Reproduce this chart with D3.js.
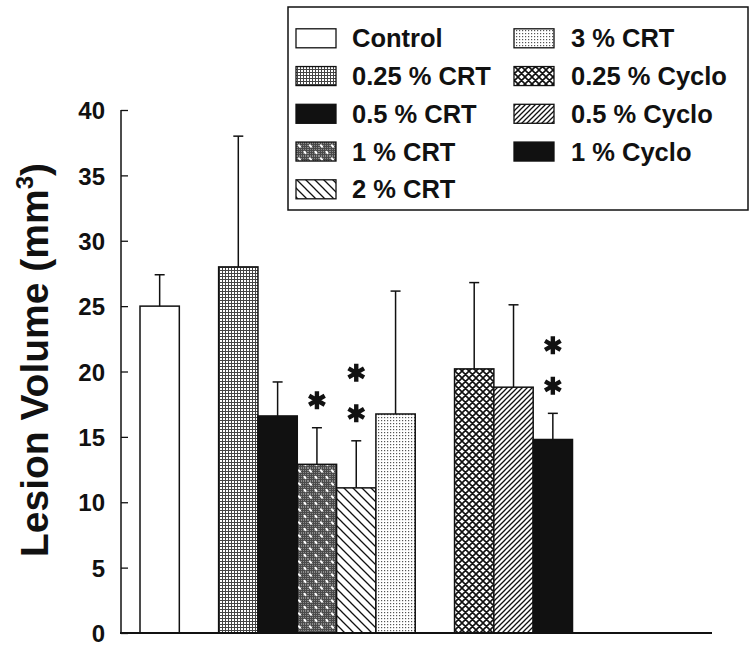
<!DOCTYPE html>
<html>
<head>
<meta charset="utf-8">
<script src="https://cdn.jsdelivr.net/npm/d3@7/dist/d3.min.js"></script>
<style>
  html, body { margin: 0; padding: 0; background: #fff; }
  svg { display: block; }
  text { font-family: "Liberation Sans", Arial, Helvetica, sans-serif; font-weight: bold; fill: #111; }
</style>
</head>
<body>
<svg id="chart" width="756" height="646"></svg>
<script>
// ---- data ----
const categories = ["Control", "0.25 % CRT", "0.5 % CRT", "1 % CRT", "2 % CRT", "3 % CRT", "0.25 % Cyclo", "0.5 % Cyclo", "1 % Cyclo"];
const groups     = ["Control", "CRT", "CRT", "CRT", "CRT", "CRT", "Cyclo", "Cyclo", "Cyclo"];
const means      = [25.0, 28.0, 16.6, 12.9, 11.1, 16.75, 20.2, 18.8, 14.8];
const errors     = [2.4, 10.0, 2.6, 2.8, 3.6, 9.4, 6.6, 6.3, 2.0];
const stars      = [0, 0, 0, 1, 2, 0, 0, 0, 2];
const yTicks     = [0, 5, 10, 15, 20, 25, 30, 35, 40];
const yTitle     = "Lesion Volume  (mm";
const legendCol1 = ["Control", "0.25 % CRT", "0.5 % CRT", "1 % CRT", "2 % CRT"];
const legendCol2 = ["3 % CRT", "0.25 % Cyclo", "0.5 % Cyclo", "1 % Cyclo"];

const svg = d3.select("#chart");
const defs = svg.append("defs");

// ---- patterns ----
function pat(id, w, h, build) {
  const p = defs.append("pattern").attr("id", id).attr("patternUnits", "userSpaceOnUse")
    .attr("width", w).attr("height", h);
  build(p);
}
// 0.25 % CRT : fine grid
pat("p025crt", 3, 3, p => {
  p.append("rect").attr("width", 3).attr("height", 3).attr("fill", "#fff");
  p.append("rect").attr("width", 3).attr("height", 1).attr("fill", "#444");
  p.append("rect").attr("width", 1).attr("height", 3).attr("fill", "#444");
});
// 1 % CRT : dark grid with white slanted dots
pat("p1crt", 11, 13, p => {
  p.append("rect").attr("width", 11).attr("height", 13).attr("fill", "#4a4a4a");
  for (let i = 0; i < 11; i += 2) for (let j = 0; j < 13; j += 2)
    p.append("rect").attr("x", i).attr("y", j).attr("width", 1).attr("height", 1).attr("fill", "#8a8a8a");
  [[2.5, 3], [8, 9.5]].forEach(([cx, cy]) => {
    p.append("ellipse").attr("cx", cx).attr("cy", cy).attr("rx", 2).attr("ry", 1.1)
      .attr("transform", `rotate(50 ${cx} ${cy})`).attr("fill", "#fff");
  });
});
// 2 % CRT : "\" lines
pat("p2crt", 9, 9, p => {
  p.append("rect").attr("width", 9).attr("height", 9).attr("fill", "#fff");
  p.append("path").attr("d", "M-1,-1 L10,10 M-1,8 L1,10 M8,-1 L10,1").attr("stroke", "#111").attr("stroke-width", 1.3);
});
// 3 % CRT : light dots
pat("p3crt", 3, 3, p => {
  p.append("rect").attr("width", 3).attr("height", 3).attr("fill", "#fff");
  p.append("rect").attr("x", 0).attr("y", 0).attr("width", 1.2).attr("height", 1.2).attr("fill", "#555");
});
// 0.25 % Cyclo : cross hatch
pat("p025cyc", 7, 7, p => {
  p.append("rect").attr("width", 7).attr("height", 7).attr("fill", "#fff");
  p.append("path").attr("d", "M-1,-1 L8,8 M-1,6 L1,8 M6,-1 L8,1 M-1,8 L8,-1 M-1,1 L1,-1 M6,8 L8,6")
    .attr("stroke", "#111").attr("stroke-width", 1.6);
});
// 0.5 % Cyclo : "/" lines, dense
pat("p05cyc", 5, 5, p => {
  p.append("rect").attr("width", 5).attr("height", 5).attr("fill", "#fff");
  p.append("path").attr("d", "M-1,6 L6,-1 M-1,1 L1,-1 M4,6 L6,4").attr("stroke", "#111").attr("stroke-width", 1.3);
});

const fills = {
  "Control": "#fff",
  "0.25 % CRT": "url(#p025crt)",
  "0.5 % CRT": "#111",
  "1 % CRT": "url(#p1crt)",
  "2 % CRT": "url(#p2crt)",
  "3 % CRT": "url(#p3crt)",
  "0.25 % Cyclo": "url(#p025cyc)",
  "0.5 % Cyclo": "url(#p05cyc)",
  "1 % Cyclo": "#111"
};

// ---- layout: slots with one empty slot between groups ----
const slots = [];
categories.forEach((c, i) => {
  if (i > 0 && groups[i] !== groups[i - 1]) slots.push("gap" + i);
  slots.push(c);
});

const x = d3.scaleBand().domain(slots).range([140, 572.5]).paddingInner(0).paddingOuter(0);
const y = d3.scaleLinear().domain([0, 40]).range([633, 110]);

const data = categories.map((c, i) => ({ c, m: means[i], e: errors[i], s: stars[i] }));

// ---- bars ----
svg.append("g").selectAll("rect").data(data).join("rect")
  .attr("x", d => x(d.c)).attr("width", x.bandwidth())
  .attr("y", d => y(d.m)).attr("height", d => y(0) - y(d.m))
  .attr("fill", d => fills[d.c]).attr("stroke", "#111").attr("stroke-width", 1.5);

// ---- error bars ----
const eg = svg.append("g").attr("stroke", "#111").attr("stroke-width", 1.5);
data.forEach(d => {
  const cx = x(d.c) + x.bandwidth() / 2;
  eg.append("line").attr("x1", cx).attr("x2", cx).attr("y1", y(d.m)).attr("y2", y(d.m + d.e));
  eg.append("line").attr("x1", cx - 5).attr("x2", cx + 5).attr("y1", y(d.m + d.e)).attr("y2", y(d.m + d.e));
});

// ---- significance stars (6-armed asterisks) ----
const r = 9;
const starPath = [90, 30, 150].map(a => {
  const dx = r * Math.cos(a * Math.PI / 180), dy = r * Math.sin(a * Math.PI / 180);
  return `M${-dx},${-dy}L${dx},${dy}`;
}).join("");
const sg = svg.append("g");
data.forEach(d => {
  const cx = x(d.c) + x.bandwidth() / 2;
  for (let k = 0; k < d.s; k++) {
    const cy = y(d.m + d.e) - 27.5 - k * 40.5;
    sg.append("path").attr("d", starPath).attr("transform", `translate(${cx},${cy})`)
      .attr("stroke", "#111").attr("stroke-width", 4.4).attr("fill", "none");
  }
});

// ---- axes ----
const yAxis = d3.axisLeft(y).tickValues(yTicks).tickSize(-7).tickPadding(16).tickFormat(d3.format("d"));
const ag = svg.append("g").attr("transform", "translate(121,0)").call(yAxis);
ag.select(".domain").remove();
ag.append("line").attr("x1", 0).attr("x2", 0).attr("y1", y(40)).attr("y2", y(0)).attr("stroke", "#111").attr("stroke-width", 1.5);
ag.selectAll(".tick line").attr("stroke", "#111").attr("stroke-width", 1.3);
ag.attr("font-size", null).attr("font-family", null);
ag.selectAll(".tick text")
  .style("font-size", "24px").style("font-weight", "bold").attr("fill", "#111").attr("dy", "0.36em");
svg.append("line").attr("x1", 120).attr("x2", 712).attr("y1", y(0)).attr("y2", y(0)).attr("stroke", "#111").attr("stroke-width", 2);

// ---- y title ----
const tt = svg.append("text").attr("transform", "translate(48,360) rotate(-90)")
  .attr("text-anchor", "middle").style("font-size", "39px");
tt.append("tspan").text(yTitle);
tt.append("tspan").text("3").attr("dy", -15).style("font-size", "24px");
tt.append("tspan").text(")").attr("dy", 15);

// ---- legend ----
svg.append("rect").attr("x", 288).attr("y", 7).attr("width", 460).attr("height", 203)
  .attr("fill", "#fff").attr("stroke", "#111").attr("stroke-width", 1.5);
const rowY = i => 38.3 + i * 37.75;
function legendCol(items, sx, tx) {
  items.forEach((c, i) => {
    svg.append("rect").attr("x", sx).attr("y", rowY(i) - 9.5).attr("width", 40).attr("height", 19)
      .attr("fill", fills[c]).attr("stroke", "#111").attr("stroke-width", 1.3);
    svg.append("text").attr("x", tx).attr("y", rowY(i) + 9).text(c).style("font-size", "25.5px");
  });
}
legendCol(legendCol1, 296, 352);
legendCol(legendCol2, 514, 571);
</script>
</body>
</html>
